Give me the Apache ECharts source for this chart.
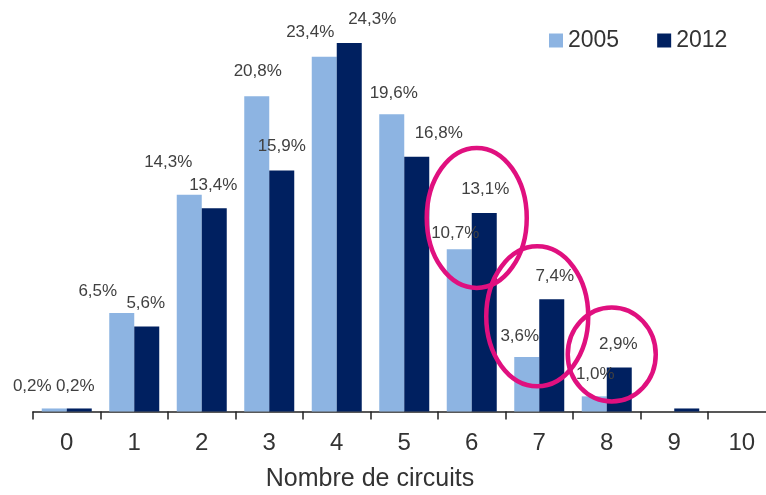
<!DOCTYPE html>
<html>
<head>
<meta charset="utf-8">
<script src="https://cdn.jsdelivr.net/npm/echarts@6/dist/echarts.min.js"></script>
<style>
  html, body { margin: 0; padding: 0; background: #fff; }
  #chart { width: 766px; height: 495px; }
</style>
</head>
<body>
<div id="chart"></div>
<script>
// données
var categories = ['0', '1', '2', '3', '4', '5', '6', '7', '8', '9', '10'];
var values2005 = [0.2, 6.5, 14.3, 20.8, 23.4, 19.6, 10.7, 3.6, 1.0, 0, 0];
var values2012 = [0.2, 5.6, 13.4, 15.9, 24.3, 16.8, 13.1, 7.4, 2.9, 0.2, 0];
var labelledCount = 9; // étiquettes seulement pour 0 à 8
var circled = [6, 7, 8];

// décalage des étiquettes (déplacées à la main dans l'original)
var shift2005 = [[-22, 1], [-24, 2], [-21, -9], [1, -1], [-14, -1], [2, 2], [-4, 8], [-7, 3], [1, 1]];
var shift2012 = [[-4, 1], [-1, 0], [-1, 0], [0, -1], [23, 0], [22, 0], [1, 0], [3, 0], [-1, 0]];

var font = '"Liberation Sans", Arial, sans-serif';

function fmt(v) {
  return v.toFixed(1).replace('.', ',') + '%';
}

function buildData(values, shifts) {
  return values.map(function (v, i) {
    var item = { value: v };
    if (i < labelledCount) {
      item.label = { show: true, offset: shifts[i] };
    } else {
      item.label = { show: false };
    }
    return item;
  });
}

var chart = echarts.init(document.getElementById('chart'));

var labelStyle = {
  position: 'top',
  distance: 15,
  fontSize: 17,
  fontFamily: font,
  color: '#404040',
  formatter: function (p) { return fmt(p.value); }
};

var option = {
  animation: false,
  backgroundColor: '#fff',
  grid: { left: 33, right: -9.5, top: 32.5, bottom: 83.5, outerBoundsMode: 'none' },
  legend: {
    left: 544,
    top: 24,
    icon: 'rect',
    itemWidth: 14,
    itemHeight: 14,
    itemGap: 38,
    textStyle: { fontSize: 23, fontFamily: font, color: '#333' },
    data: ['2005', '2012']
  },
  xAxis: {
    type: 'category',
    data: categories,
    boundaryGap: true,
    axisLine: { lineStyle: { color: '#222', width: 1.5 } },
    axisTick: { show: true, length: 8, lineStyle: { color: '#222', width: 1.5 } },
    axisLabel: { fontSize: 24, fontFamily: font, color: '#333', margin: 20, interval: 0 }
  },
  yAxis: {
    type: 'value',
    min: 0,
    max: 25,
    show: false,
    splitLine: { show: false }
  },
  series: [
    {
      name: '2005',
      type: 'bar',
      barWidth: 25,
      barGap: '0%',
      itemStyle: { color: '#8DB4E2' },
      label: labelStyle,
      data: buildData(values2005, shift2005)
    },
    {
      name: '2012',
      type: 'bar',
      barWidth: 25,
      barGap: '0%',
      itemStyle: { color: '#002060' },
      label: labelStyle,
      data: buildData(values2012, shift2012)
    }
  ]
};

chart.setOption(option);

// cercles magenta autour des catégories 6, 7, 8 (placés par rapport à la barre la plus haute)
var ellipseSize = { 6: [50, 70], 7: [51, 70], 8: [44, 47] };
var ellipseNudge = { 6: [5, 5], 7: [-2, 17], 8: [5, -13] };
var elements = circled.map(function (c) {
  var top = Math.max(values2005[c], values2012[c]);
  var pt = chart.convertToPixel({ gridIndex: 0 }, [c, top]);
  return {
    type: 'ellipse',
    shape: {
      cx: pt[0] + ellipseNudge[c][0],
      cy: pt[1] + ellipseNudge[c][1],
      rx: ellipseSize[c][0],
      ry: ellipseSize[c][1]
    },
    style: { fill: null, stroke: '#E0107F', lineWidth: 4.5 },
    z: 100
  };
});

// titre de l'axe
elements.push({
  type: 'text',
  x: 370,
  y: 479,
  style: {
    text: 'Nombre de circuits',
    fontSize: 25,
    fontFamily: font,
    fill: '#333',
    align: 'center',
    verticalAlign: 'middle'
  }
});

chart.setOption({ graphic: { elements: elements } });
</script>
</body>
</html>
